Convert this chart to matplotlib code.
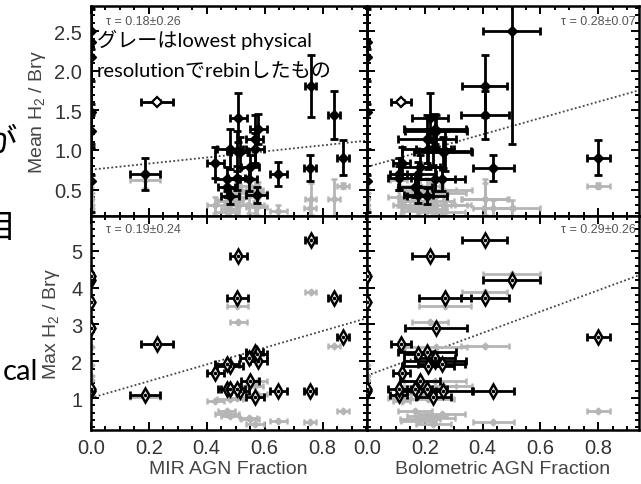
import matplotlib
matplotlib.use("Agg")
from matplotlib import pyplot as plt
from matplotlib.ticker import MultipleLocator

# values, one entry per galaxy
mir_frac = [0.0, 0.758, 0.839, 0.229, 0.187, 0.756, 0.869, 0.509, 0.506, 0.578,
            0.480, 0.565, 0.567, 0.515, 0.430, 0.549, 0.647, 0.470, 0.469, 0.480,
            0.572, 0.545, 0.503, 0.0, 0.0, 0.0, 0.0, 0.0]
mir_err = [0.0, 0.02, 0.02, 0.055, 0.052, 0.02, 0.02, 0.03, 0.035, 0.03,
           0.045, 0.03, 0.03, 0.03, 0.03, 0.03, 0.03, 0.04, 0.03, 0.03,
           0.035, 0.03, 0.03, 0.0, 0.0, 0.0, 0.0, 0.0]
bol_frac = [0.50, 0.408, 0.408, 0.117, 0.109, 0.437, 0.80, 0.218, 0.270, 0.235,
            0.212, 0.207, 0.229, 0.264, 0.120, 0.183, 0.178, 0.258, 0.166, 0.207,
            0.178, 0.235, 0.111, 0.0, 0.0, 0.0, 0.0, 0.238]
bol_err = [0.098, 0.078, 0.083, 0.035, 0.030, 0.072, 0.040, 0.063, 0.09, 0.107,
           0.09, 0.10, 0.06, 0.10, 0.03, 0.07, 0.06, 0.08, 0.06, 0.07,
           0.05, 0.07, 0.04, 0.0, 0.0, 0.0, 0.0, 0.107]
mean_ratio = [2.51, 1.81, 1.44, 1.61, 0.70, 0.77, 0.90, 1.41, 0.99, 1.27,
              1.01, 1.14, 1.01, 0.97, 0.84, 0.78, 0.70, 0.63, 0.53, 0.42,
              0.43, 0.63, 0.65, 2.37, 2.18, 1.48, 0.61, 1.24]
mean_err = [1.43, 0.39, 0.30, 0.02, 0.20, 0.16, 0.22, 0.31, 0.25, 0.19,
            0.25, 0.30, 0.20, 0.20, 0.20, 0.15, 0.15, 0.15, 0.12, 0.10,
            0.10, 0.15, 0.15, 0.50, 0.60, 0.80, 0.40, 0.20]
max_ratio = [4.22, 5.31, 3.71, 2.48, 1.07, 1.19, 2.67, 4.86, 3.71, 2.02,
             1.88, 2.24, 1.02, 1.20, 1.68, 1.47, 1.18, 1.93, 1.24, 1.24,
             2.20, 2.10, 1.24, 4.31, 3.60, 1.20, 1.24, 2.90]
# grey: rebinned to the lowest physical resolution
grey_mean = [0.27, 0.38, 0.38, 1.61, 0.62, 0.27, 0.55, 0.45, 0.30, 0.45,
             0.35, 0.50, 0.30, 0.50, 0.30, 0.55, 0.23, 0.22, 0.36, 0.25,
             0.28, 0.30, 0.40, 0.38, 0.30, 0.25, 0.45, 0.30]
grey_mean_err = [0.10, 0.20, 0.25, 0.02, 0.10, 0.10, 0.03, 0.15, 0.12, 0.15,
                 0.12, 0.15, 0.10, 0.15, 0.10, 0.10, 0.08, 0.10, 0.10, 0.10,
                 0.10, 0.10, 0.12, 0.15, 0.15, 0.10, 0.15, 0.10]
grey_max = [4.37, 3.88, 2.41, 2.48, 1.04, 0.36, 0.65, 3.08, 3.50, 1.45,
            0.98, 1.33, 0.29, 1.33, 0.93, 0.43, 0.38, 0.56, 0.66, 0.50,
            1.10, 0.45, 1.00, 1.90, 1.60, 1.50, 1.20, 2.40]
open_top = [3]  # index of the open diamond in the top row

# fitted trend lines (intercept, slope) and Kendall tau per panel
fit_intercept = [0.75, 0.785, 1.0, 1.61]
fit_slope = [0.386, 1.03, 2.28, 2.9]
tau_text = ["τ = 0.18±0.26", "τ = 0.28±0.07", "τ = 0.19±0.24", "τ = 0.29±0.26"]

W, H = 641.0, 485.0
BLACK = "black"
GREY = "#b5b5b5"
TICK_FONT = "Liberation Sans"

plt.rcParams["mathtext.fontset"] = "custom"
plt.rcParams["mathtext.rm"] = TICK_FONT
plt.rcParams["mathtext.it"] = TICK_FONT + ":italic"
plt.rcParams["mathtext.default"] = "regular"


def box(x0, y0, x1, y1):
    # pixel box -> figure fraction
    return [x0 / W, 1 - y1 / H, (x1 - x0) / W, (y1 - y0) / H]


fig = plt.figure(figsize=(W / 100, H / 100), dpi=100)
ax_tl = fig.add_axes(box(90.7, 7, 366.5, 217))
ax_tr = fig.add_axes(box(367, 7, 639, 217))
ax_bl = fig.add_axes(box(90.7, 217, 366.5, 431))
ax_br = fig.add_axes(box(367, 217, 639, 431))

panels = [
    (ax_tl, mir_frac, mir_err, True),
    (ax_tr, bol_frac, bol_err, True),
    (ax_bl, mir_frac, mir_err, False),
    (ax_br, bol_frac, bol_err, False),
]

for i, (ax, xs, xe, top) in enumerate(panels):
    if top:
        ax.errorbar(xs, grey_mean, xerr=xe, yerr=grey_mean_err, fmt="D", ms=3.5,
                    color=GREY, ecolor=GREY, elinewidth=2, capsize=2.5, capthick=1.8, zorder=2)
        ax.errorbar(xs, mean_ratio, xerr=xe, yerr=mean_err, fmt="none",
                    ecolor=BLACK, elinewidth=2, capsize=3, capthick=2, zorder=3)
        for j in range(len(xs)):
            if j in open_top:
                ax.plot(xs[j], mean_ratio[j], "D", ms=5.5, mfc="white", mec=BLACK, mew=1.6, zorder=4)
            else:
                ax.plot(xs[j], mean_ratio[j], "D", ms=5, color=BLACK, zorder=4)
        ax.set_ylim(0.165, 2.82)
        ax.yaxis.set_major_locator(MultipleLocator(0.5))
        ax.yaxis.set_minor_locator(MultipleLocator(0.1))
    else:
        ax.errorbar(xs, grey_max, xerr=xe, fmt="D", ms=3.5,
                    color=GREY, ecolor=GREY, elinewidth=2, capsize=2.5, capthick=1.8, zorder=2)
        ax.errorbar(xs, max_ratio, xerr=xe, fmt="none",
                    ecolor=BLACK, elinewidth=2, capsize=3, capthick=2, zorder=3)
        ax.plot(xs, max_ratio, "d", ms=7.5, mfc="white", mec=BLACK, mew=1.8, ls="none", zorder=4)
        ax.plot(xs, max_ratio, "o", ms=1.6, color=BLACK, ls="none", zorder=5)
        ax.set_ylim(0.13, 5.95)
        ax.yaxis.set_major_locator(MultipleLocator(1))
        ax.yaxis.set_minor_locator(MultipleLocator(0.2))

    x0, x1 = 0.0, (0.951 if ax in (ax_tl, ax_bl) else 0.941)
    ax.plot([x0, x1], [fit_intercept[i], fit_intercept[i] + fit_slope[i] * x1],
            ls=(0, (1, 1.3)), color="#444444", lw=1.3, zorder=1)
    ax.set_xlim(x0, x1)
    ax.xaxis.set_major_locator(MultipleLocator(0.2))
    ax.xaxis.set_minor_locator(MultipleLocator(0.05))

    ax.tick_params(which="both", direction="in", top=True, right=True,
                   width=1.4, colors=BLACK, labelcolor="#333333", labelsize=14.5, pad=6)
    ax.tick_params(which="major", length=6)
    ax.tick_params(which="minor", length=3)
    for s in ax.spines.values():
        s.set_linewidth(1.8)
    for lab in ax.get_xticklabels() + ax.get_yticklabels():
        lab.set_fontfamily(TICK_FONT)

    if top:
        ax.tick_params(labelbottom=False)
    if ax in (ax_tr, ax_br):
        ax.tick_params(labelleft=False)

    if ax in (ax_tl, ax_bl):
        ax.text(0.055, 0.93 if top else 0.94, tau_text[i], transform=ax.transAxes,
                ha="left", va="center", fontsize=9, color="#555555", family=TICK_FONT)
    else:
        ax.text(0.988, 0.93 if top else 0.94, tau_text[i], transform=ax.transAxes,
                ha="right", va="center", fontsize=9, color="#555555", family=TICK_FONT)

ax_tl.set_ylabel("Mean H$_2$ / Brγ", fontsize=14, color="#444444", family=TICK_FONT)
ax_bl.set_ylabel("Max H$_2$ / Brγ", fontsize=14, color="#444444", family=TICK_FONT)
ax_tl.yaxis.set_label_coords(-0.155, 0.5)
ax_bl.yaxis.set_label_coords(-0.105, 0.5)
ax_bl.set_xlabel("MIR AGN Fraction", fontsize=14, color="#444444", family=TICK_FONT, labelpad=2)
ax_br.set_xlabel("Bolometric AGN Fraction", fontsize=14, color="#444444", family=TICK_FONT, labelpad=2)

# overlaid note and the cut-off slide text on the left
jp = ["Lato", "Noto Sans CJK JP"]
fig.text(97 / W, 1 - 40 / H, "グレーはlowest physical", ha="left", va="center",
         fontsize=14.5, family=jp, color="black")
fig.text(97 / W, 1 - 72 / H, "resolutionでrebinしたもの", ha="left", va="center",
         fontsize=14.5, family=jp, color="black")
fig.text(17 / W, 1 - 143 / H, "が", ha="right", va="center", fontsize=24, family=jp)
fig.text(16 / W, 1 - 229 / H, "目", ha="right", va="center", fontsize=24, family=jp)
fig.text(38 / W, 1 - 372 / H, "cal", ha="right", va="center", fontsize=21, family=jp)

fig.savefig("out.png", dpi=100)
